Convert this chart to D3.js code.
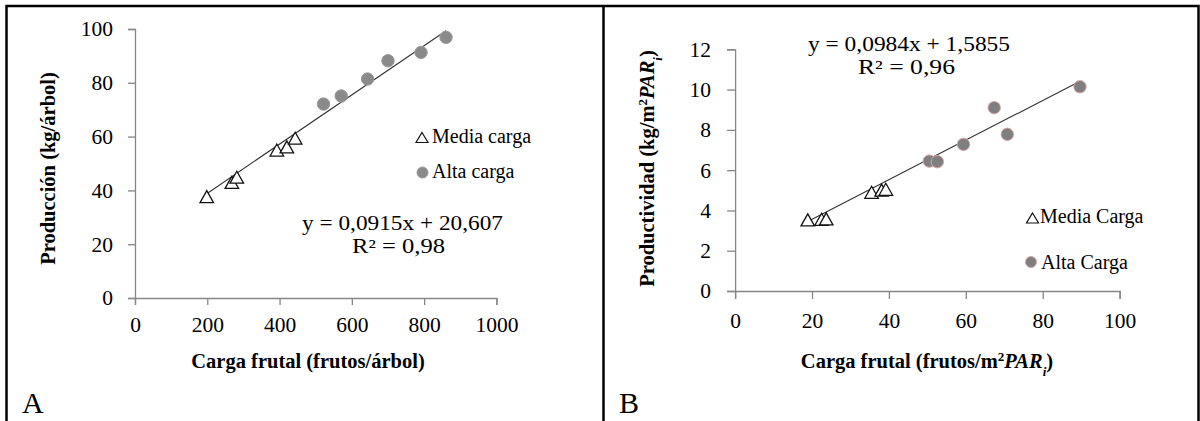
<!DOCTYPE html>
<html>
<head>
<meta charset="utf-8">
<script src="https://cdn.jsdelivr.net/npm/d3@7/dist/d3.min.js"></script>
<style>
  html, body { margin: 0; padding: 0; background: #fff; }
  svg { display: block; }
  svg text { font-family: "Liberation Serif", serif; }
</style>
</head>
<body>
<svg id="chart" width="1200" height="421" font-family="Liberation Serif"></svg>
<script>
// ---- Panel A: producción por árbol ----
const mediaA_x = [198.6, 267.9, 281.7, 392.5, 420.2, 443.2];
const mediaA_y = [37.7, 43.0, 44.9, 55.0, 56.2, 59.4];
const altaA_x  = [521.6, 570.6, 643.5, 700.0, 791.4, 860.7];
const altaA_y  = [72.1, 75.1, 81.4, 88.2, 91.3, 96.9];
const fitA = [0.0915, 20.607];           // slope, intercept
const xTicksA = [0, 200, 400, 600, 800, 1000];
const yTicksA = [0, 20, 40, 60, 80, 100];
const legendA = ["Media carga", "Alta carga"];
const eqA = ["y = 0,0915x + 20,607", "R² = 0,98"];

// ---- Panel B: productividad por m² PARi ----
const mediaB_x = [18.9, 22.5, 23.7, 35.5, 38.1, 39.2];
const mediaB_y = [3.53, 3.56, 3.58, 4.90, 5.01, 5.05];
const altaB_x  = [50.5, 52.6, 59.4, 67.4, 70.8, 89.7];
const altaB_y  = [6.45, 6.42, 7.28, 9.10, 7.78, 10.14];
const fitB = [0.0984, 1.5855];
const xTicksB = [0, 20, 40, 60, 80, 100];
const yTicksB = [0, 2, 4, 6, 8, 10, 12];
const legendB = ["Media Carga", "Alta Carga"];
const eqB = ["y = 0,0984x + 1,5855", "R² = 0,96"];

const SERIF = "'Liberation Serif', 'Times New Roman', serif";
const svg = d3.select("#chart");

// frame around both panels
const frame = svg.append("g").attr("stroke", "#000").attr("stroke-width", 2.5).attr("fill", "none");
frame.append("path").attr("d", "M6.5,421 V6 H1198.5 V421");
frame.append("line").attr("x1", 603.5).attr("x2", 603.5).attr("y1", 6).attr("y2", 421);

function triPath(w, h) {
  return `M0,${-h / 2} L${w / 2},${h / 2} L${-w / 2},${h / 2} Z`;
}

function txt(sel, size, weight) {
  return sel.style("font-family", SERIF).style("font-size", size + "px")
    .style("font-weight", weight || "normal").attr("fill", "#000");
}

function drawPanel(cfg) {
  const x = d3.scaleLinear().domain(cfg.xDomain).range(cfg.xRange);
  const y = d3.scaleLinear().domain(cfg.yDomain).range(cfg.yRange);
  const g = svg.append("g");

  const xAxis = g.append("g")
    .attr("transform", `translate(0,${cfg.yRange[0]})`)
    .call(d3.axisBottom(x).tickValues(cfg.xTicks).tickSizeOuter(0)
      .tickSize(cfg.tick).tickPadding(cfg.xPad).tickFormat(d3.format("d")));
  const yAxis = g.append("g")
    .attr("transform", `translate(${cfg.xRange[0]},0)`)
    .call(d3.axisLeft(y).tickValues(cfg.yTicks).tickSizeOuter(0)
      .tickSize(cfg.tick).tickPadding(cfg.yPad).tickFormat(d3.format("d")));
  [xAxis, yAxis].forEach(a => {
    a.attr("font-family", "Liberation Serif").attr("font-size", 21.5);
    a.select(".domain").attr("stroke", "#868686").attr("stroke-width", 1.3);
    a.selectAll(".tick line").attr("stroke", "#868686").attr("stroke-width", 1.3);
    txt(a.selectAll(".tick text"), 21.5);
  });

  // trend line across the data range
  const allX = cfg.mx.concat(cfg.ax);
  const x0 = d3.min(allX), x1 = d3.max(allX);
  g.append("line")
    .attr("x1", x(x0)).attr("y1", y(cfg.fit[0] * x0 + cfg.fit[1]))
    .attr("x2", x(x1)).attr("y2", y(cfg.fit[0] * x1 + cfg.fit[1]))
    .attr("stroke", "#333").attr("stroke-width", 1.1);

  // high-load points
  g.selectAll("circle.alta").data(cfg.ax.map((v, i) => [v, cfg.ay[i]]))
    .join("circle").attr("class", "alta")
    .attr("cx", d => x(d[0])).attr("cy", d => y(d[1])).attr("r", 6.2)
    .attr("fill", cfg.dotFill).attr("stroke", cfg.dotStroke).attr("stroke-width", 1);

  // medium-load points
  g.selectAll("path.media").data(cfg.mx.map((v, i) => [v, cfg.my[i]]))
    .join("path").attr("class", "media")
    .attr("d", triPath(13.5, 12))
    .attr("transform", d => `translate(${x(d[0])},${y(d[1])})`)
    .attr("fill", "#fff").attr("stroke", "#111").attr("stroke-width", 1.3);

  // legend
  const L = cfg.legend;
  g.append("path").attr("d", triPath(12, 10))
    .attr("transform", `translate(${L.tri[0]},${L.tri[1]})`)
    .attr("fill", "#fff").attr("stroke", "#111").attr("stroke-width", 1.2);
  txt(g.append("text").attr("x", L.t1[0]).attr("y", L.t1[1]).text(cfg.legendText[0]), 20);
  g.append("circle").attr("cx", L.dot[0]).attr("cy", L.dot[1]).attr("r", 5.5)
    .attr("fill", cfg.dotFill).attr("stroke", cfg.dotStroke).attr("stroke-width", 1);
  txt(g.append("text").attr("x", L.t2[0]).attr("y", L.t2[1]).text(cfg.legendText[1]), 20);

  // regression equation
  cfg.eq.forEach((s, i) => {
    txt(g.append("text").attr("x", cfg.eqPos[i][0]).attr("y", cfg.eqPos[i][1])
      .attr("text-anchor", "middle")
      .attr("textLength", cfg.eqLen[i]).attr("lengthAdjust", "spacingAndGlyphs")
      .text(s), 20);
  });

  // axis titles
  const xt = txt(g.append("text").attr("x", cfg.xTitlePos[0]).attr("y", cfg.xTitlePos[1])
    .attr("text-anchor", "middle"), 20.5, "bold");
  cfg.xTitle.forEach(p => addPart(xt, p));
  const yt = txt(g.append("text")
    .attr("transform", `translate(${cfg.yTitlePos[0]},${cfg.yTitlePos[1]}) rotate(-90)`)
    .attr("text-anchor", "middle"), 20.5, "bold");
  cfg.yTitle.forEach(p => addPart(yt, p));

  txt(svg.append("text").attr("x", cfg.letterPos[0]).attr("y", cfg.letterPos[1])
    .text(cfg.letter), 30);
}

function addPart(t, p) {
  const s = t.append("tspan").text(p.t);
  if (p.i) s.style("font-style", "italic");
  if (p.sup) s.attr("baseline-shift", "super").style("font-size", "13px");
  if (p.sub) s.attr("baseline-shift", "sub").style("font-size", "13px");
}

drawPanel({
  xDomain: [0, 1000], xRange: [135, 496.4],
  yDomain: [0, 100], yRange: [298, 29],
  xTicks: xTicksA, yTicks: yTicksA, tick: 7, xPad: 12, yPad: 15,
  mx: mediaA_x, my: mediaA_y, ax: altaA_x, ay: altaA_y, fit: fitA,
  dotFill: "#8a8a8a", dotStroke: "#9a9a9a",
  legend: { tri: [422, 137.5], t1: [432, 143], dot: [422.5, 172.5], t2: [432, 178] },
  legendText: legendA,
  eq: eqA, eqPos: [[402.5, 230], [398.5, 252.5]], eqLen: [201, 93],
  xTitle: [{ t: "Carga frutal (frutos/árbol)" }], xTitlePos: [308, 368],
  yTitle: [{ t: "Producción (kg/árbol)" }], yTitlePos: [55, 168.5],
  letter: "A", letterPos: [22, 413]
});

drawPanel({
  xDomain: [0, 100], xRange: [735.1, 1119.6],
  yDomain: [0, 12], yRange: [291, 49.3],
  xTicks: xTicksB, yTicks: yTicksB, tick: 8, xPad: 14, yPad: 16,
  mx: mediaB_x, my: mediaB_y, ax: altaB_x, ay: altaB_y, fit: fitB,
  dotFill: "#7f7f7f", dotStroke: "#d6a4a4",
  legend: { tri: [1032.5, 218], t1: [1040, 223], dot: [1031, 262], t2: [1041, 269] },
  legendText: legendB,
  eq: eqB, eqPos: [[909, 51], [906.5, 73.5]], eqLen: [202, 97],
  xTitle: [{ t: "Carga frutal (frutos/m" }, { t: "2", sup: true }, { t: "PAR", i: true }, { t: "i", i: true, sub: true }, { t: ")" }],
  xTitlePos: [927, 368],
  yTitle: [{ t: "Productividad (kg/m" }, { t: "2", sup: true }, { t: "PAR", i: true }, { t: "i", i: true, sub: true }, { t: ")" }],
  yTitlePos: [654, 168.5],
  letter: "B", letterPos: [619, 413]
});
</script>
</body>
</html>
